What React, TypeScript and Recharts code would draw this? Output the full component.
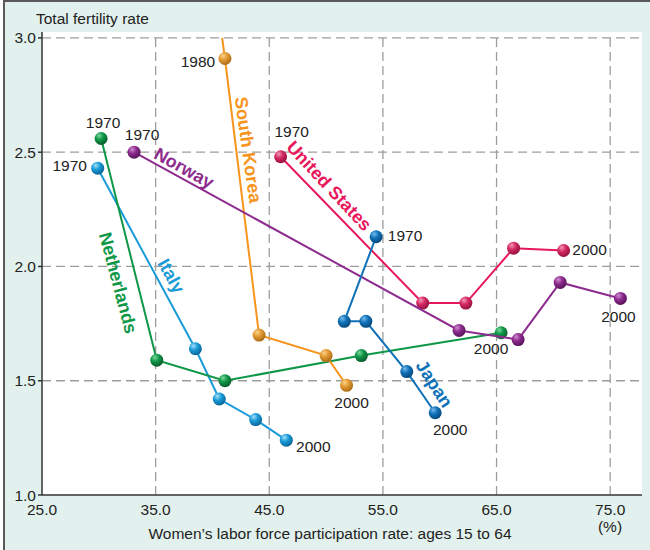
import React from 'react';
import { ScatterChart, Scatter, XAxis, YAxis, CartesianGrid, ReferenceLine, ReferenceDot } from 'recharts';

const xTicks = [25, 35, 45, 55, 65, 75];
const yTicks = [1.0, 1.5, 2.0, 2.5, 3.0];
const X_MAX = 77.8;
const Y_MAX = 3.026;

// women's labor force participation rate (%) and total fertility rate, 1970 -> 2000
const italyLabor = [29.9, 38.5, 40.6, 43.8, 46.5];
const italyTfr = [2.43, 1.64, 1.42, 1.33, 1.24];
const netherlandsLabor = [30.2, 35.1, 41.1, 53.1, 65.4];
const netherlandsTfr = [2.56, 1.59, 1.5, 1.61, 1.71];
const koreaLabor = [41.1, 44.1, 50.0, 51.8]; // first visible point is 1980
const koreaTfr = [2.91, 1.7, 1.61, 1.48];
const usLabor = [46.0, 58.5, 62.3, 66.5, 70.9];
const usTfr = [2.48, 1.84, 1.84, 2.08, 2.07];
const norwayLabor = [33.1, 61.7, 66.9, 70.6, 75.9];
const norwayTfr = [2.5, 1.72, 1.68, 1.93, 1.86];
const japanLabor = [54.4, 51.6, 53.5, 57.1, 59.6];
const japanTfr = [2.13, 1.76, 1.76, 1.54, 1.36];
// where the Korean 1970 segment leaves the top of the frame
const koreaExit = { x: 40.85, y: 3.0 };

const toRows = (xs: number[], ys: number[]) => xs.map((x, i) => ({ x, y: ys[i] }));

const series = [
  { id: 'italy', name: 'Italy', color: '#1a9bd7', light: '#a4defa', dark: '#0a6497', rows: toRows(italyLabor, italyTfr) },
  { id: 'neth', name: 'Netherlands', color: '#0f9748', light: '#7cd79b', dark: '#0a5a2a', rows: toRows(netherlandsLabor, netherlandsTfr) },
  { id: 'korea', name: 'South Korea', color: '#f7941d', light: '#f9d48c', dark: '#a86a14', ball: '#e39a33', rows: [{ ...koreaExit, ghost: true }, ...toRows(koreaLabor, koreaTfr)] },
  { id: 'us', name: 'United States', color: '#e8175d', light: '#f39ab6', dark: '#931040', ball: '#d42a62', rows: toRows(usLabor, usTfr) },
  { id: 'norway', name: 'Norway', color: '#8d2b8e', light: '#d08ed2', dark: '#551258', rows: toRows(norwayLabor, norwayTfr) },
  { id: 'japan', name: 'Japan', color: '#0f72b8', light: '#79bcec', dark: '#08477a', rows: toRows(japanLabor, japanTfr) },
];

// year tags hang off a point of a series; dx/dy are pixel offsets from that point
const yearTags = [
  { xs: italyLabor, ys: italyTfr, i: 0, text: '1970', dx: -28, dy: -3 },
  { xs: italyLabor, ys: italyTfr, i: 4, text: '2000', dx: 27, dy: 6 },
  { xs: netherlandsLabor, ys: netherlandsTfr, i: 0, text: '1970', dx: 2, dy: -16 },
  { xs: netherlandsLabor, ys: netherlandsTfr, i: 4, text: '2000', dx: -10, dy: 16 },
  { xs: koreaLabor, ys: koreaTfr, i: 0, text: '1980', dx: -27, dy: 3 },
  { xs: koreaLabor, ys: koreaTfr, i: 3, text: '2000', dx: 5, dy: 17 },
  { xs: usLabor, ys: usTfr, i: 0, text: '1970', dx: 11, dy: -25 },
  { xs: usLabor, ys: usTfr, i: 4, text: '2000', dx: 26, dy: -1 },
  { xs: norwayLabor, ys: norwayTfr, i: 0, text: '1970', dx: 8, dy: -18 },
  { xs: norwayLabor, ys: norwayTfr, i: 4, text: '2000', dx: -2, dy: 18 },
  { xs: japanLabor, ys: japanTfr, i: 0, text: '1970', dx: 29, dy: -1 },
  { xs: japanLabor, ys: japanTfr, i: 4, text: '2000', dx: 15, dy: 17 },
];

// country names written along their lines
const nameTags = [
  { text: 'Norway', x: 37.5, y: 2.43, angle: 29, color: '#8d2b8e' },
  { text: 'South Korea', x: 43.13, y: 2.51, angle: 82, color: '#f7941d' },
  { text: 'United States', x: 50.26, y: 2.352, angle: 47, color: '#e8175d' },
  { text: 'Italy', x: 36.36, y: 1.958, angle: 61, color: '#1a9bd7' },
  { text: 'Netherlands', x: 31.69, y: 1.928, angle: 75, color: '#0f9748' },
  { text: 'Japan', x: 59.51, y: 1.486, angle: 57, color: '#0f72b8' },
];

const FONT = '"Liberation Sans", Arial, Helvetica, sans-serif';
const gridStroke = '#9d9d9d';

const ballShape = (id: string) => (props: any) => {
  const { cx, cy, payload } = props;
  if (payload && payload.ghost) return <g />;
  return <circle cx={cx} cy={cy} r={6.5} fill={`url(#ball-${id})`} />;
};

export default function App() {
  return (
    <div style={{ position: 'absolute', left: 0, top: 0, width: 650, height: 550, background: '#fff', fontFamily: FONT }}>
      <div
        style={{
          position: 'absolute', left: 3, top: 0, width: 647, height: 550, boxSizing: 'border-box',
          background: '#e2f1ed', borderTop: '2px solid #5a5a5a', borderLeft: '2px solid #5a5a5a',
        }}
      />
      <div style={{ position: 'absolute', left: 0, top: 0 }}>
        <ScatterChart width={650} height={550} margin={{ top: 32, right: 8, bottom: 25, left: 0 }}>
          <defs>
            {series.map((s) => (
              <radialGradient key={s.id} id={`ball-${s.id}`} cx="38%" cy="32%" r="70%" fx="35%" fy="28%">
                <stop offset="0%" stopColor={s.light} />
                <stop offset="45%" stopColor={s.ball || s.color} />
                <stop offset="100%" stopColor={s.dark} />
              </radialGradient>
            ))}
          </defs>
          <CartesianGrid fill="#ffffff" horizontal={false} vertical={false} />
          <XAxis
            type="number"
            dataKey="x"
            domain={[25, X_MAX]}
            ticks={xTicks}
            allowDataOverflow
            tickFormatter={(v: number) => v.toFixed(1)}
            axisLine={{ stroke: '#333', strokeWidth: 1.5 }}
            tickLine={false}
            tickMargin={3}
            tick={{ fontSize: 15.5, fill: '#222' }}
            height={30}
          />
          <YAxis
            type="number"
            dataKey="y"
            domain={[1, Y_MAX]}
            ticks={yTicks}
            allowDataOverflow
            tickFormatter={(v: number) => v.toFixed(1)}
            axisLine={{ stroke: '#333', strokeWidth: 1.5 }}
            tickLine={{ stroke: '#333', strokeWidth: 1.5 }}
            tickSize={4}
            tickMargin={2}
            tick={{ fontSize: 15.5, fill: '#222' }}
            width={42}
          />
          {yTicks.slice(1).map((t) => (
            <ReferenceLine key={`h${t}`} y={t} stroke={gridStroke} strokeWidth={1.3} strokeDasharray="9 5" />
          ))}
          {xTicks.slice(1).map((t) => (
            <ReferenceLine
              key={`v${t}`}
              segment={[{ x: t, y: 1 }, { x: t, y: 3 }]}
              stroke={gridStroke}
              strokeWidth={1.3}
              strokeDasharray="9 5"
            />
          ))}
          {series.map((s) => (
            <Scatter
              key={s.id}
              name={s.name}
              data={s.rows}
              line={{ stroke: s.color, strokeWidth: 2 }}
              shape={ballShape(s.id)}
              isAnimationActive={false}
            />
          ))}
          {yearTags.map((t, k) => (
            <ReferenceDot
              key={`y${k}`}
              x={t.xs[t.i]}
              y={t.ys[t.i]}
              r={0}
              shape={(p: any) => (
                <text
                  x={p.cx + t.dx}
                  y={p.cy + t.dy}
                  textAnchor="middle"
                  dominantBaseline="central"
                  fontSize={15.5}
                  fill="#222"
                >
                  {t.text}
                </text>
              )}
            />
          ))}
          {nameTags.map((t) => (
            <ReferenceDot
              key={t.text}
              x={t.x}
              y={t.y}
              r={0}
              shape={(p: any) => (
                <text
                  x={p.cx}
                  y={p.cy}
                  transform={`rotate(${t.angle}, ${p.cx}, ${p.cy})`}
                  textAnchor="middle"
                  dominantBaseline="central"
                  fontSize={18}
                  fontWeight="bold"
                  fill={t.color}
                >
                  {t.text}
                </text>
              )}
            />
          ))}
        </ScatterChart>
      </div>
      <div style={{ position: 'absolute', left: 36, top: 10, fontSize: 15.5, color: '#222', whiteSpace: 'nowrap' }}>
        Total fertility rate
      </div>
      <div style={{ position: 'absolute', left: 0, width: 660, top: 525, textAlign: 'center', fontSize: 15.5, color: '#222', whiteSpace: 'nowrap' }}>
        Women’s labor force participation rate: ages 15 to 64
      </div>
      <div style={{ position: 'absolute', left: 590, width: 40, top: 518, textAlign: 'center', fontSize: 15.5, color: '#222' }}>
        (%)
      </div>
    </div>
  );
}
